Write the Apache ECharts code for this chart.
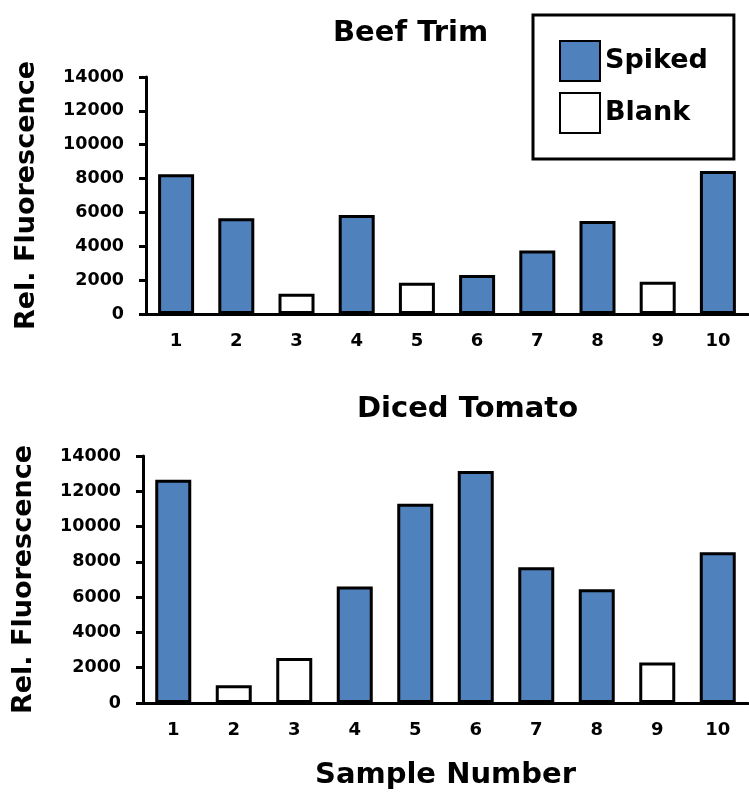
<!DOCTYPE html>
<html>
<head>
<meta charset="utf-8">
<script src="https://cdn.jsdelivr.net/npm/echarts@6/dist/echarts.min.js"></script>
<style>
  html, body { margin: 0; padding: 0; background: #fff; }
  #chart { width: 749px; height: 792px; }
</style>
</head>
<body>
<div id="chart"></div>
<script>
// sample numbers on the x axis
var samples = ["1", "2", "3", "4", "5", "6", "7", "8", "9", "10"];
// Beef Trim (top)
var beefSpiked = [8250, 5650, null, 5850, null, 2300, 3750, 5500, null, 8450];
var beefBlank  = [null, null, 1200, null, 1850, null, null, null, 1900, null];
// Diced Tomato (bottom)
var tomatoSpiked = [12650, null, null, 6600, 11300, 13150, 7700, 6450, null, 8550];
var tomatoBlank  = [null, 1000, 2550, null, null, null, null, null, 2300, null];

var font = "DejaVu Sans";
var blue = "#4F81BD";

var chart = echarts.init(document.getElementById("chart"));

function xAx(idx, name) {
    return {
        type: "category",
        gridIndex: idx,
        data: samples,
        name: name,
        nameLocation: "middle",
        nameGap: 58,
        nameTextStyle: { fontFamily: font, fontWeight: "bold", fontSize: 29, color: "#000" },
        axisLine: { lineStyle: { color: "#000", width: 3 } },
        axisTick: { length: 7, lineStyle: { color: "#000", width: 3 } },
        axisLabel: { margin: 18, fontFamily: font, fontWeight: "bold", fontSize: 18, color: "#000" }
    };
}
function yAx(idx) {
    return {
        type: "value",
        gridIndex: idx,
        min: 0,
        max: 14000,
        interval: 2000,
        name: "Rel. Fluorescence",
        nameLocation: "middle",
        nameGap: 106,
        nameTextStyle: { fontFamily: font, fontWeight: "bold", fontSize: 27, color: "#000" },
        axisLine: { show: true, lineStyle: { color: "#000", width: 3 } },
        axisTick: { show: true, length: 7, lineStyle: { color: "#000", width: 3 } },
        splitLine: { show: false },
        axisLabel: {
            margin: 22, fontFamily: font, fontWeight: "bold", fontSize: 17.5, color: "#000",
            formatter: function (v) { return String(v); }
        }
    };
}
function bars(name, data, idx, color) {
    return {
        name: name,
        type: "bar",
        xAxisIndex: idx,
        yAxisIndex: idx,
        barGap: "-100%",
        data: data,
        barWidth: 36,
        itemStyle: { color: color, borderColor: "#000", borderWidth: 3 }
    };
}

var option = {
    animation: false,
    title: [
        { text: "Beef Trim", left: 328, top: 14,
          textStyle: { fontFamily: font, fontWeight: "bold", fontSize: 29, color: "#000" } },
        { text: "Diced Tomato", left: 352, top: 390,
          textStyle: { fontFamily: font, fontWeight: "bold", fontSize: 29, color: "#000" } }
    ],
    legend: {
        data: ["Spiked", "Blank"],
        orient: "vertical",
        icon: "rect",
        left: 533,
        top: 15,
        padding: [25, 26, 25, 26],
        itemWidth: 40,
        itemHeight: 40,
        itemGap: 10,
        borderColor: "#000",
        borderWidth: 3,
        textStyle: { fontFamily: font, fontWeight: "bold", fontSize: 27, color: "#000" }
    },
    grid: [
        { left: 146, right: 1, top: 77, height: 237 },
        { left: 143, right: 1, top: 456, height: 247 }
    ],
    xAxis: [xAx(0, ""), xAx(1, "Sample Number")],
    yAxis: [yAx(0), yAx(1)],
    series: [
        bars("Spiked", beefSpiked, 0, blue),
        bars("Blank", beefBlank, 0, "#fff"),
        bars("Spiked", tomatoSpiked, 1, blue),
        bars("Blank", tomatoBlank, 1, "#fff")
    ]
};
chart.setOption(option);
</script>
</body>
</html>
